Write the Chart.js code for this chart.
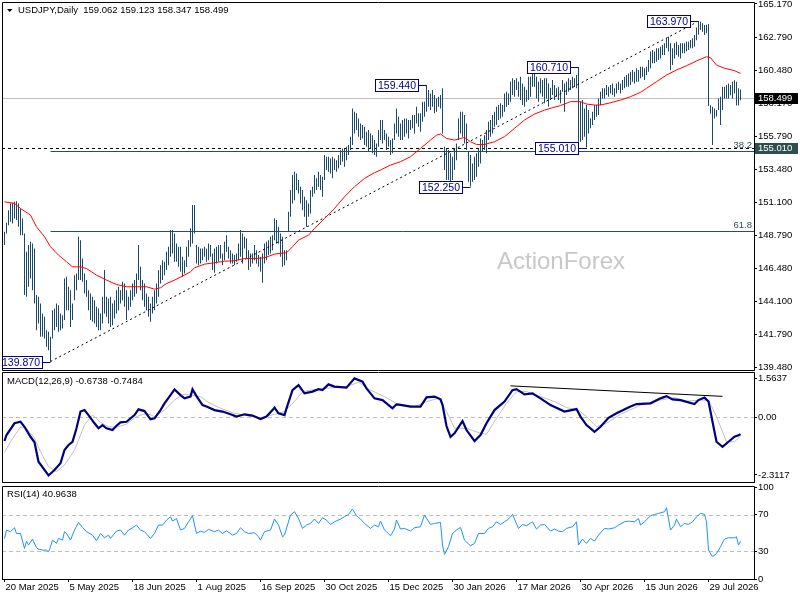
<!DOCTYPE html>
<html>
<head>
<meta charset="utf-8">
<title>USDJPY Daily</title>
<script src="https://cdn.jsdelivr.net/npm/chart.js@4.4.1/dist/chart.umd.min.js"></script>
<style>
html, body { margin:0; padding:0; background:#ffffff; width:800px; height:600px; overflow:hidden; }
canvas { position:absolute; left:0; }
#cMain { top:0; }
#cMacd { top:372px; }
#cRsi { top:476px; }
</style>
</head>
<body>
<canvas id="cMain" width="800" height="372"></canvas>
<canvas id="cMacd" width="800" height="112"></canvas>
<canvas id="cRsi" width="800" height="124"></canvas>
<script>
// ---------------- DATA ----------------
const symbol = 'USDJPY,Daily';
const lastOHLC = [159.062, 159.123, 158.347, 158.499];

const highs = [
149.05,149.69,150.58,151.06,151.10,151.17,151.22,151.06,150.70,149.99,
148.93,147.63,148.11,148.34,148.22,147.87,144.57,144.45,143.98,143.27,
143.03,142.09,141.97,141.62,143.50,143.62,143.98,143.86,143.27,143.15,
145.75,145.86,145.16,144.92,143.98,145.98,146.10,148.70,148.46,147.16,
146.10,145.63,144.92,144.68,144.45,144.21,143.74,143.62,143.27,144.45,
146.34,144.45,144.33,144.45,143.98,144.21,144.92,145.16,144.92,145.51,
145.39,144.92,144.45,144.92,145.39,145.63,146.10,148.11,146.57,145.63,
145.39,144.68,144.45,143.98,144.45,144.92,145.39,146.34,146.69,147.04,
146.93,147.63,147.99,149.17,149.17,148.93,148.22,147.99,147.99,147.28,
147.04,147.99,148.46,149.30,150.94,150.94,148.11,147.99,147.87,147.87,
147.99,147.87,148.22,148.11,147.52,147.87,147.99,148.11,148.11,147.52,
148.34,148.81,147.99,147.75,147.52,147.40,147.52,148.22,149.17,148.93,
148.70,148.58,147.75,147.52,147.52,148.11,147.75,147.40,147.28,147.52,
148.22,148.34,148.46,148.70,148.81,149.99,149.88,149.40,148.93,148.70,
147.75,147.75,150.47,152.00,153.06,153.30,153.18,152.71,152.24,152.00,
151.53,151.29,151.06,152.00,152.24,153.06,152.83,153.30,153.06,152.95,
154.48,154.36,154.36,154.24,154.36,154.24,154.12,154.48,154.83,154.95,
154.95,155.07,155.19,155.78,157.78,157.55,157.43,157.07,156.72,156.60,
156.48,156.13,156.25,156.01,155.89,155.54,155.30,156.25,156.96,156.96,
156.25,156.01,155.78,155.54,155.66,156.72,157.78,157.19,156.72,156.96,
157.07,157.07,156.96,156.96,157.31,157.31,157.90,157.43,157.43,158.25,
158.25,159.44,159.08,158.84,159.08,158.73,158.49,158.61,158.73,159.20,
155.07,154.95,154.83,154.60,154.36,154.95,155.30,157.07,157.55,157.55,
157.31,156.72,154.71,154.48,153.89,154.36,154.60,154.95,155.66,155.54,
155.89,156.25,156.84,156.96,157.31,157.55,157.90,158.02,158.14,158.02,
158.84,158.96,158.84,159.67,159.91,159.79,159.91,159.67,160.02,159.55,
159.32,159.08,160.02,160.02,160.26,160.61,160.02,159.67,159.91,159.79,
159.91,159.91,159.55,159.20,159.79,159.44,159.20,159.32,159.08,159.79,
159.55,159.67,159.91,159.79,160.03,159.91,160.14,160.71,158.26,158.37,
157.78,158.02,157.67,157.08,157.55,158.02,158.02,158.49,158.96,159.20,
159.20,159.44,159.32,159.44,159.55,159.20,159.55,159.67,159.55,159.79,
160.03,160.14,160.26,160.38,160.50,160.38,160.62,160.50,160.73,160.73,
160.62,160.73,161.21,161.80,161.91,161.80,162.03,162.03,162.15,162.27,
162.39,162.74,162.86,162.39,162.03,162.39,162.50,162.27,162.39,162.39,
162.39,162.50,162.50,162.62,162.74,162.98,163.50,163.97,163.92,163.80,
163.68,163.70,163.75,158.00,157.90,157.78,157.66,158.49,158.60,159.31,
159.31,159.43,159.55,159.43,159.67,159.78,159.67,159.20,159.12
];

const lows = [
148.11,148.93,149.52,149.76,149.64,149.99,149.88,149.40,148.81,148.81,
144.57,144.45,145.16,145.75,144.92,143.98,142.09,142.56,141.62,141.62,
141.50,140.91,140.67,139.87,141.50,142.09,142.32,141.97,142.09,142.21,
142.80,143.50,143.50,142.32,142.80,144.21,144.92,145.63,145.63,145.51,
144.68,144.45,143.50,142.80,142.68,142.56,142.32,142.09,142.09,142.56,
143.27,143.03,142.56,142.32,142.44,142.91,143.27,143.50,143.98,144.21,
143.74,142.80,143.50,143.74,144.21,144.45,144.68,145.63,144.92,144.21,
143.74,143.50,143.03,142.68,143.27,143.50,143.98,144.45,145.39,145.63,
145.98,146.34,146.69,147.28,147.52,146.93,146.93,146.57,146.22,145.86,
146.10,146.57,147.28,148.00,148.22,148.93,146.81,146.69,146.81,147.04,
147.28,146.93,147.04,147.28,146.34,146.15,146.81,146.93,147.16,146.69,
147.04,147.63,147.16,146.81,146.81,146.69,146.93,147.04,147.28,146.81,
147.87,147.16,146.34,146.57,146.81,147.04,146.81,146.57,146.22,145.44,
146.81,147.04,147.40,147.52,147.75,148.46,148.22,148.22,147.28,146.57,
146.69,147.04,149.05,150.11,151.06,151.29,152.00,151.76,151.06,150.58,
150.11,149.40,150.11,150.35,151.53,151.76,152.00,152.24,152.00,151.53,
152.71,153.42,153.30,153.18,152.83,153.42,153.30,153.53,153.77,154.01,
153.65,154.12,154.48,154.83,155.19,156.01,156.25,155.78,155.54,155.66,
155.19,155.07,154.71,154.95,154.60,154.48,154.36,155.07,155.54,155.30,
155.54,154.83,155.07,154.48,154.60,155.54,156.01,155.78,155.54,155.54,
155.78,156.01,155.66,156.25,156.37,156.01,156.72,156.48,156.13,156.84,
157.19,157.55,157.90,157.66,157.90,157.43,157.55,157.90,157.78,156.01,
153.42,152.71,152.71,152.47,152.71,153.42,154.12,155.54,156.01,155.78,
155.30,154.83,152.59,152.25,152.59,152.71,152.94,153.65,153.89,154.71,
154.83,154.60,155.54,155.78,156.01,156.48,156.60,156.96,157.07,157.19,
157.55,157.90,158.02,158.25,158.73,158.61,159.08,158.61,158.37,158.02,
157.90,158.25,158.37,158.61,159.32,159.32,158.49,158.25,158.84,158.61,
158.14,158.49,157.90,158.37,158.73,158.37,158.61,158.37,158.14,158.96,
157.55,158.73,158.96,159.08,159.20,159.32,159.20,155.42,155.42,155.54,
155.78,155.01,156.01,156.37,156.60,156.96,157.19,157.31,158.02,158.49,
158.49,158.73,158.61,158.84,158.73,158.61,158.84,159.08,158.84,159.08,
159.20,159.32,159.32,159.44,159.67,159.55,159.67,159.67,159.91,160.03,
159.79,160.14,160.38,160.62,160.97,160.97,161.09,161.21,161.32,161.56,
161.56,162.03,161.80,160.50,160.85,161.32,161.56,161.44,161.32,161.68,
161.68,161.80,161.91,162.03,162.03,162.15,162.60,163.00,163.33,163.21,
162.98,163.10,157.95,157.40,155.20,157.07,157.20,157.66,156.60,157.66,
158.49,158.49,158.49,158.72,158.49,158.84,157.99,157.99,158.35
];

// 50-day moving average, read at sample bars [barIndex, value]
const maPts = [[0,151.17],[5,151.06],[8,150.70],[13,150.23],[16,149.40],[20,148.70],[23,147.99],[27,147.40],[31,146.93],[34,146.57],[38,146.57],[41,146.45],[46,145.98],[51,145.63],[56,145.32],[61,145.16],[66,145.16],[71,145.16],[75,144.99],[78,145.09],[81,145.39],[85,145.63],[89,145.91],[93,146.22],[95,146.50],[100,146.76],[105,146.86],[110,146.97],[115,147.00],[120,147.16],[125,147.16],[130,147.21],[135,147.47],[139,147.54],[141,147.56],[144,147.99],[147,148.46],[152,148.81],[155,149.29],[160,149.99],[165,150.70],[170,151.53],[175,152.24],[180,152.83],[185,153.23],[188,153.42],[193,153.77],[198,154.01],[203,154.36],[208,154.95],[213,155.54],[216,155.89],[218,155.97],[221,155.66],[225,155.54],[230,155.73],[233,155.42],[236,155.23],[240,155.23],[245,155.42],[250,155.78],[255,156.37],[260,156.96],[265,157.38],[270,157.66],[274,157.83],[278,157.98],[283,158.26],[288,158.26],[291,158.09],[295,158.02],[298,158.02],[303,158.18],[308,158.37],[313,158.61],[318,158.92],[321,159.20],[326,159.67],[331,160.14],[336,160.50],[341,160.80],[346,161.14],[351,161.44],[353,161.37],[356,160.85],[360,160.62],[365,160.45],[368,160.26]];

const trendPts = [[23,139.87],[345,163.80]];
const swingIdx = [23, 211, 233, 287, 291, 347];
const swingVal = [139.870, 159.440, 152.250, 160.710, 155.010, 163.970];
const fibNames = ['38.2', '61.8'];
const fibVals = [154.76, 149.08];
const fibStartIdx = 23;
const hLevel = 155.010;
const priceTicks = [165.170, 162.790, 160.480, 158.170, 155.790, 153.480, 151.100, 148.790, 146.480, 144.100, 141.790, 139.480];

const xTickIdx = [0, 32, 64, 96, 128, 160, 192, 224, 256, 288, 320, 352];
const xTickLabels = ['20 Mar 2025','5 May 2025','18 Jun 2025','1 Aug 2025','16 Sep 2025','30 Oct 2025','15 Dec 2025','30 Jan 2026','17 Mar 2026','30 Apr 2026','15 Jun 2026','29 Jul 2026'];

const macdPts = [[0,-0.95],[1,-0.71],[5,-0.24],[8,-0.18],[10,-0.38],[13,-0.78],[15,-1.00],[17,-1.78],[20,-2.11],[22,-2.33],[25,-2.11],[28,-1.84],[30,-1.31],[32,-1.11],[34,-0.98],[36,-0.44],[38,0.23],[40,0.29],[42,0.09],[45,-0.24],[47,-0.44],[49,-0.31],[51,-0.44],[54,-0.51],[56,-0.34],[58,-0.20],[61,-0.18],[65,0.09],[67,0.32],[70,0.25],[73,-0.08],[75,-0.04],[78,0.29],[80,0.56],[83,0.89],[85,1.12],[88,0.89],[90,0.76],[93,0.83],[94,1.12],[96,0.85],[99,0.49],[101,0.43],[105,0.29],[109,0.23],[113,0.12],[116,0.03],[120,0.12],[124,0.07],[128,-0.07],[131,0.03],[134,0.29],[135,0.39],[137,0.16],[140,0.09],[141,0.36],[144,1.09],[147,1.29],[150,0.96],[154,1.03],[157,1.13],[159,1.09],[162,1.32],[165,1.23],[171,1.19],[175,1.56],[179,1.43],[181,1.16],[185,0.76],[189,0.69],[194,0.36],[196,0.52],[198,0.50],[203,0.43],[208,0.43],[211,0.80],[215,0.83],[218,0.72],[219,0.50],[221,-0.35],[223,-0.78],[225,-0.64],[229,-0.15],[231,-0.51],[235,-0.95],[238,-0.71],[241,-0.24],[245,0.29],[250,0.63],[254,1.09],[256,1.13],[260,0.92],[264,0.96],[268,0.76],[273,0.49],[280,0.23],[286,0.33],[288,0.03],[291,-0.31],[295,-0.58],[298,-0.38],[302,-0.02],[306,0.16],[313,0.43],[316,0.53],[323,0.56],[328,0.76],[331,0.85],[334,0.72],[338,0.69],[345,0.53],[347,0.69],[350,0.79],[352,0.63],[355,-0.58],[356,-0.98],[359,-1.18],[362,-0.98],[365,-0.78],[367,-0.72],[368,-0.6738]];
const signalPts = [[0,-1.40],[3,-0.98],[8,-0.38],[11,-0.44],[15,-0.84],[18,-1.38],[22,-1.98],[26,-2.18],[30,-1.91],[35,-1.31],[40,-0.31],[44,0.09],[48,-0.20],[52,-0.38],[56,-0.40],[61,-0.27],[66,0.03],[71,0.16],[75,0.03],[80,0.29],[85,0.69],[89,0.92],[93,0.89],[98,0.83],[102,0.60],[108,0.36],[115,0.16],[121,0.07],[128,-0.02],[135,0.12],[140,0.23],[145,0.63],[149,1.03],[153,1.09],[160,1.16],[165,1.19],[171,1.23],[177,1.40],[183,1.09],[190,0.83],[196,0.56],[198,0.52],[205,0.43],[211,0.63],[217,0.76],[221,0.23],[225,-0.44],[231,-0.44],[238,-0.64],[241,-0.68],[246,-0.04],[251,0.56],[256,1.03],[261,1.03],[268,0.83],[275,0.63],[281,0.39],[287,0.29],[291,0.03],[296,-0.38],[301,-0.24],[308,0.12],[318,0.49],[328,0.69],[335,0.79],[341,0.65],[348,0.69],[352,0.69],[356,0.03],[361,-0.98],[365,-0.98],[368,-0.7484]];
const macdTrendPts = [[253,1.26],[359,0.84]];
const macdLast = [-0.6738, -0.7484];
const macdTicks = [1.5637, 0, -2.3117];
const macdTickLabels = ['1.5637', '0.00', '-2.3117'];

const rsiPts = [[0,44.1],[1,53.2],[3,51.4],[5,55.7],[6,49.5],[8,49.5],[10,33.2],[11,41.2],[12,36.9],[14,43.4],[16,34.0],[17,32.5],[19,31.4],[21,31.4],[22,29.6],[23,35.1],[24,42.3],[26,38.7],[27,44.1],[29,42.3],[30,51.4],[31,49.5],[33,42.3],[35,53.2],[37,61.5],[39,56.1],[41,51.4],[44,47.7],[46,41.6],[48,49.5],[50,44.8],[52,47.7],[53,44.1],[56,52.1],[58,53.2],[60,47.7],[62,53.2],[64,55.7],[66,58.6],[68,53.2],[70,51.4],[73,44.1],[75,49.5],[77,58.6],[79,58.6],[81,64.0],[83,67.7],[84,62.9],[86,65.8],[88,53.2],[90,55.0],[92,62.2],[94,68.7],[96,49.5],[98,52.1],[100,50.6],[102,53.9],[105,51.4],[107,53.2],[109,49.5],[111,52.4],[114,47.7],[116,49.5],[118,55.7],[120,51.4],[122,49.5],[125,50.3],[127,45.9],[128,42.3],[130,51.4],[133,53.2],[135,65.1],[137,58.6],[139,45.9],[140,47.7],[143,69.5],[145,73.1],[147,65.8],[149,55.0],[151,58.6],[153,60.4],[155,65.1],[157,60.4],[159,66.6],[161,64.0],[163,59.3],[165,62.2],[168,65.1],[170,67.7],[172,70.2],[174,76.0],[176,68.7],[178,65.1],[180,60.4],[183,55.0],[185,58.6],[187,56.8],[188,62.9],[190,53.2],[191,51.4],[193,47.0],[195,54.3],[196,64.0],[198,54.3],[200,55.0],[203,52.1],[205,55.7],[208,56.8],[210,69.5],[213,59.3],[215,60.4],[218,61.5],[219,36.9],[220,26.7],[222,35.1],[224,49.5],[226,53.2],[228,56.1],[230,42.3],[233,36.1],[235,38.7],[237,49.5],[240,49.5],[242,55.0],[244,56.8],[246,62.2],[248,59.3],[250,62.2],[252,65.1],[254,70.2],[255,65.1],[257,55.0],[259,59.3],[261,57.9],[264,62.2],[266,54.3],[268,58.6],[270,59.3],[273,52.1],[275,54.3],[277,52.1],[279,51.4],[281,55.0],[284,56.8],[286,62.2],[287,36.9],[289,43.4],[291,38.7],[293,44.1],[295,41.2],[297,47.7],[300,55.0],[302,54.3],[305,55.7],[307,58.6],[310,62.2],[312,62.9],[315,62.2],[317,65.8],[318,58.6],[320,62.2],[323,68.7],[325,70.2],[327,71.3],[330,73.1],[331,77.4],[333,53.2],[335,58.6],[336,65.1],[338,56.8],[340,60.4],[342,59.3],[344,62.2],[346,67.7],[348,71.3],[350,70.2],[351,62.2],[352,31.4],[354,24.2],[356,27.8],[358,35.1],[360,43.4],[362,44.8],[365,44.8],[366,45.9],[367,36.9],[368,40.9638]];
const rsiLast = 40.9638;
const rsiTicks = [100, 70, 30, 0];
const rsiLevels = [70, 30];

// ---------------- LAYOUT / STYLE ----------------
const FONT = "'Liberation Sans', Arial, sans-serif";
const X_MIN = -1.25, X_MAX = 374.75, AXIS_W = 46;

function toXY(pts) { return pts.map(p => ({ x: p[0], y: p[1] })); }

function xAxis(display) {
  const ax = { type: 'linear', min: X_MIN, max: X_MAX, offset: false, display: display };
  if (display) {
    Object.assign(ax, {
      position: 'bottom',
      afterBuildTicks(s) { s.ticks = xTickIdx.map(v => ({ value: v })); },
      afterFit(s) { s.height = 21; s.paddingLeft = 0; s.paddingRight = 0; },
      ticks: { callback: (v, i) => xTickLabels[i], align: 'start', labelOffset: 1, padding: 0,
               maxRotation: 0, minRotation: 0, autoSkip: false, color: '#000', font: { family: FONT, size: 9.5 } },
      grid: { drawOnChartArea: false, drawTicks: true, tickLength: 3, color: '#000' },
      border: { display: true, color: '#000' }
    });
  }
  return ax;
}

function yAxis(min, max, ticks, labels) {
  return {
    type: 'linear', position: 'right', min: min, max: max,
    afterFit(s) { s.width = AXIS_W; s.paddingTop = 0; s.paddingBottom = 0; },
    afterBuildTicks(s) { s.ticks = ticks.map(v => ({ value: v })); },
    ticks: { callback: (v, i) => labels[i], color: '#000', font: { family: FONT, size: 9.5 }, padding: 1, autoSkip: false },
    grid: { drawOnChartArea: false, drawTicks: true, tickLength: 3, color: '#000' },
    border: { display: true, color: '#000', width: 1 }
  };
}

function hline(ctx, x0, x1, yy, color, dash) {
  const p = Math.round(yy) + 0.5;
  ctx.save();
  ctx.strokeStyle = color; ctx.lineWidth = 1; ctx.setLineDash(dash);
  ctx.beginPath(); ctx.moveTo(x0, p); ctx.lineTo(x1, p); ctx.stroke();
  ctx.restore();
}

function frame(chart) {
  const a = chart.chartArea, ctx = chart.ctx;
  const l = Math.round(a.left) + 0.5, r = Math.round(a.right) + 0.5;
  const t = Math.round(a.top) - 0.5, b = Math.round(a.bottom) + 0.5;
  ctx.save();
  ctx.strokeStyle = '#000'; ctx.lineWidth = 1; ctx.setLineDash([]);
  ctx.beginPath();
  ctx.moveTo(r, t); ctx.lineTo(l, t); ctx.lineTo(l, b); ctx.lineTo(r, b); ctx.lineTo(r, t);
  ctx.stroke();
  ctx.restore();
}

function clipArea(chart) {
  const a = chart.chartArea, ctx = chart.ctx;
  ctx.beginPath(); ctx.rect(a.left, a.top, a.right - a.left, a.bottom - a.top); ctx.clip();
}

const baseOptions = {
  responsive: false, animation: false, devicePixelRatio: 1, events: [],
  plugins: { legend: { display: false }, tooltip: { enabled: false } }
};

// ---------------- MAIN PRICE PANEL ----------------
const mainDeco = {
  id: 'mainDeco',
  beforeDatasetsDraw(chart) {
    const { ctx, chartArea: a, scales: { x, y } } = chart;
    ctx.save();
    clipArea(chart);
    ctx.font = '24px ' + FONT; ctx.fillStyle = '#c8c8c8';
    ctx.textAlign = 'center'; ctx.textBaseline = 'middle';
    ctx.fillText('ActionForex', 561, 262);
    hline(ctx, a.left, a.right, y.getPixelForValue(lastOHLC[3]), '#c0c0c0', []);
    hline(ctx, a.left, a.right, y.getPixelForValue(hLevel), '#000000', [3, 3]);
    fibVals.forEach((v, k) => {
      const yy = y.getPixelForValue(v);
      hline(ctx, x.getPixelForValue(fibStartIdx), a.right, yy, '#2f4f4f', []);
      ctx.font = '9.5px ' + FONT; ctx.fillStyle = '#2f4f4f';
      ctx.textAlign = 'right'; ctx.textBaseline = 'bottom';
      ctx.fillText(fibNames[k], a.right - 2, Math.round(yy) - 1);
    });
    ctx.restore();
  },
  afterDatasetsDraw(chart) {
    const { ctx, scales: { x, y } } = chart;
    ctx.save();
    clipArea(chart);
    ctx.font = '10.5px ' + FONT;
    ctx.textAlign = 'center'; ctx.textBaseline = 'middle';
    ctx.lineWidth = 1;
    swingIdx.forEach((idx, k) => {
      const bx = x.getPixelForValue(idx);
      const by = Math.round(y.getPixelForValue(swingVal[k])) + 0.5;
      const txt = swingVal[k].toFixed(3);
      const w = Math.round(ctx.measureText(txt).width) + 5, h = 12;
      const right = Math.round(bx - 9) + 0.5, left = right - w, top = by - 6;
      ctx.fillStyle = '#ffffff'; ctx.fillRect(left, top, w, h);
      ctx.strokeStyle = '#000080'; ctx.strokeRect(left, top, w, h);
      ctx.beginPath(); ctx.moveTo(right, by); ctx.lineTo(bx, by); ctx.stroke();
      ctx.fillStyle = '#000080'; ctx.fillText(txt, left + w / 2, by + 0.5);
    });
    ctx.restore();
  },
  afterDraw(chart) {
    const { ctx, chartArea: a, scales: { y } } = chart;
    frame(chart);
    ctx.save();
    ctx.font = '9.5px ' + FONT; ctx.textAlign = 'left'; ctx.textBaseline = 'middle';
    [[lastOHLC[3], '#000000'], [hLevel, '#2f4f4f']].forEach(([v, bg]) => {
      const yy = Math.round(y.getPixelForValue(v));
      ctx.fillStyle = bg; ctx.fillRect(a.right + 1, yy - 5, 43, 11);
      ctx.fillStyle = '#ffffff'; ctx.fillText(v.toFixed(3), a.right + 4, yy + 0.5);
    });
    // title
    ctx.fillStyle = '#000000';
    ctx.beginPath(); ctx.moveTo(7, 9); ctx.lineTo(12.5, 9); ctx.lineTo(9.75, 12); ctx.closePath(); ctx.fill();
    ctx.fillText(symbol + '  ' + lastOHLC.map(v => v.toFixed(3)).join(' '), 18, 10.5);
    ctx.restore();
  }
};

new Chart(document.getElementById('cMain'), {
  type: 'bar',
  data: {
    datasets: [
      { type: 'bar', data: highs.map((h, i) => ({ x: i, y: [lows[i], h] })),
        backgroundColor: '#1b4966', borderWidth: 0, barThickness: 1, grouped: false, inflateAmount: 0, order: 3 },
      { type: 'line', data: toXY(maPts), borderColor: '#ff0000', borderWidth: 1, pointRadius: 0, tension: 0, order: 1 },
      { type: 'line', data: toXY(trendPts), borderColor: '#000000', borderWidth: 1, borderDash: [2, 3], pointRadius: 0, order: 2 }
    ]
  },
  options: Object.assign({}, baseOptions, {
    layout: { padding: { left: 2, top: 3, right: 0, bottom: 2 } },
    scales: {
      x: xAxis(false),
      y: yAxis(139.27, 165.24, priceTicks, priceTicks.map(v => v.toFixed(3)))
    }
  }),
  plugins: [mainDeco]
});

// ---------------- MACD PANEL ----------------
const macdDeco = {
  id: 'macdDeco',
  beforeDatasetsDraw(chart) {
    const { ctx, chartArea: a, scales: { y } } = chart;
    hline(ctx, a.left, a.right, y.getPixelForValue(0), '#c0c0c0', [4, 3]);
  },
  afterDraw(chart) {
    const ctx = chart.ctx;
    frame(chart);
    ctx.save();
    ctx.font = '9.5px ' + FONT; ctx.fillStyle = '#000'; ctx.textAlign = 'left'; ctx.textBaseline = 'middle';
    ctx.fillText('MACD(12,26,9) ' + macdLast.map(v => v.toFixed(4)).join(' '), 7, 9.5);
    ctx.restore();
  }
};

new Chart(document.getElementById('cMacd'), {
  type: 'line',
  data: {
    datasets: [
      { data: toXY(signalPts), borderColor: '#c0c0c0', borderWidth: 1, pointRadius: 0, tension: 0, order: 3 },
      { data: toXY(macdPts), borderColor: '#000080', borderWidth: 2.2, pointRadius: 0, tension: 0, order: 2 },
      { data: toXY(macdTrendPts), borderColor: '#000000', borderWidth: 1, pointRadius: 0, order: 1 }
    ]
  },
  options: Object.assign({}, baseOptions, {
    layout: { padding: { left: 2, top: 1, right: 0, bottom: 2 } },
    scales: { x: xAxis(false), y: yAxis(-2.593, 1.776, macdTicks, macdTickLabels) }
  }),
  plugins: [macdDeco]
});

// ---------------- RSI PANEL ----------------
const rsiDeco = {
  id: 'rsiDeco',
  beforeDatasetsDraw(chart) {
    const { ctx, chartArea: a, scales: { y } } = chart;
    rsiLevels.forEach(v => hline(ctx, a.left, a.right, y.getPixelForValue(v), '#c0c0c0', [4, 3]));
  },
  afterDraw(chart) {
    const ctx = chart.ctx;
    frame(chart);
    ctx.save();
    ctx.font = '9.5px ' + FONT; ctx.fillStyle = '#000'; ctx.textAlign = 'left'; ctx.textBaseline = 'middle';
    ctx.fillText('RSI(14) ' + rsiLast.toFixed(4), 7, 18);
    ctx.restore();
  }
};

new Chart(document.getElementById('cRsi'), {
  type: 'line',
  data: {
    datasets: [
      { data: toXY(rsiPts), borderColor: '#1e90ff', borderWidth: 1, pointRadius: 0, tension: 0 }
    ]
  },
  options: Object.assign({}, baseOptions, {
    layout: { padding: { left: 2, top: 11, right: 0, bottom: 0 } },
    scales: { x: xAxis(true), y: yAxis(0, 100, rsiTicks, rsiTicks.map(String)) }
  }),
  plugins: [rsiDeco]
});
</script>
</body>
</html>
